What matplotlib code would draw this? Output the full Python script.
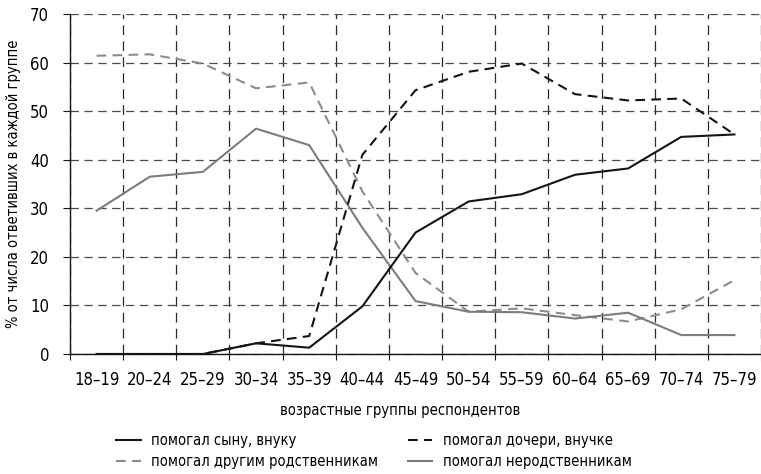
import matplotlib
matplotlib.use("Agg")
import matplotlib.pyplot as plt
from matplotlib import font_manager
from matplotlib.ft2font import FT2Font

# age groups and shares (% of respondents in each group)
age_groups = ["18–19", "20–24", "25–29", "30–34", "35–39", "40–44", "45–49",
              "50–54", "55–59", "60–64", "65–69", "70–74", "75–79"]
son_grandson = [0, 0, 0, 2.2, 1.3, 9.8, 25.0, 31.4, 32.9, 36.9, 38.2, 44.7, 45.2]
daughter_granddaughter = [0, 0, 0, 2.2, 3.7, 41.0, 54.3, 58.1, 59.8, 53.5, 52.2, 52.6, 45.2]
other_relatives = [61.4, 61.7, 59.8, 54.7, 55.9, 33.5, 16.7, 8.7, 9.4, 8.0, 6.7, 9.2, 15.2]
non_relatives = [29.5, 36.5, 37.5, 46.4, 43.0, 26.0, 10.9, 8.7, 8.6, 7.3, 8.5, 3.9, 3.9]


def has_cyrillic(path):
    try:
        cmap = FT2Font(path).get_charmap()
    except Exception:
        return False
    return all(ord(c) in cmap for c in 'помгалынук–')


# look for a narrow face with Cyrillic; fall back to Liberation Sans (Arial metrics)
family, stretch, narrow = 'Liberation Sans', 'normal', False
for f in font_manager.fontManager.ttflist:
    narrow_name = 'Narrow' in f.name or 'Condensed' in f.name
    narrow_stretch = f.stretch in ('condensed', 'semi-condensed', 'extra-condensed', 600, 700)
    if (narrow_name or narrow_stretch) and f.style == 'normal' and f.weight in (400, 'normal', 'regular') \
            and has_cyrillic(f.fname):
        family, stretch, narrow = f.name, f.stretch, True
        break
plt.rcParams['font.family'] = [family, 'DejaVu Sans']
plt.rcParams['font.stretch'] = stretch
plt.rcParams['lines.scale_dashes'] = False
fs_num = 12 if narrow else 11.5      # tick labels
fs_txt = 10.5 if narrow else 10      # Cyrillic texts

fig = plt.figure(figsize=(7.61, 4.74), dpi=100)
ax = fig.add_axes([70 / 761, 1 - 354 / 474, 691 / 761, 340 / 474])

x = [i + 0.5 for i in range(len(age_groups))]
black = '#141414'
l_other, = ax.plot(x, other_relatives, color='#8c8c8c', lw=1.5, dashes=(7, 4.5),
                   label='помогал другим родственникам')
l_non, = ax.plot(x, non_relatives, color='#7c7c7c', lw=1.5,
                 label='помогал неродственникам')
l_dau, = ax.plot(x, daughter_granddaughter, color=black, lw=1.5, dashes=(7, 4.5),
                 label='помогал дочери, внучке')
l_son, = ax.plot(x, son_grandson, color=black, lw=1.5,
                 label='помогал сыну, внуку')

ax.set_xlim(0, len(age_groups))
ax.set_ylim(0, 70)

# gridlines at category boundaries, labels at centres
ax.set_xticks(range(len(age_groups) + 1))
ax.set_xticklabels([])
ax.set_xticks(x, minor=True)
ax.set_xticklabels(age_groups, minor=True, fontsize=fs_num)
ax.tick_params(axis='x', which='major', length=4, width=0.8, direction='out', color=black)
ax.tick_params(axis='x', which='minor', length=0, pad=12)
ax.set_yticks(range(0, 71, 10))
ax.tick_params(axis='y', length=5, width=0.8, direction='out', pad=10, labelsize=fs_num, color=black)

ax.grid(True, axis='x', which='major', color='#2a2a2a', lw=0.9, dashes=(7, 4.5))
ax.grid(True, axis='y', color='#4a4a4a', lw=0.9, dashes=(6, 4))
ax.set_axisbelow(True)

for side in ['top', 'right']:
    ax.spines[side].set_visible(False)
for side in ['left', 'bottom']:
    ax.spines[side].set_color(black)
    ax.spines[side].set_linewidth(1.0)

fig.text(14 / 761, 1 - 184 / 474, '% от числа ответивших в каждой группе',
         rotation=90, ha='center', va='center', fontsize=fs_txt)
fig.text(400 / 761, 1 - 410 / 474, 'возрастные группы респондентов',
         ha='center', va='center', fontsize=fs_txt)

fig.legend(handles=[l_son, l_other, l_dau, l_non], ncol=2, loc='center',
           bbox_to_anchor=(374 / 761, 1 - 451 / 474), frameon=False, fontsize=fs_txt,
           handlelength=1.65, handletextpad=0.7, columnspacing=2.1,
           labelspacing=0.42, borderpad=0)

fig.savefig('out.png', dpi=100, facecolor='white')
